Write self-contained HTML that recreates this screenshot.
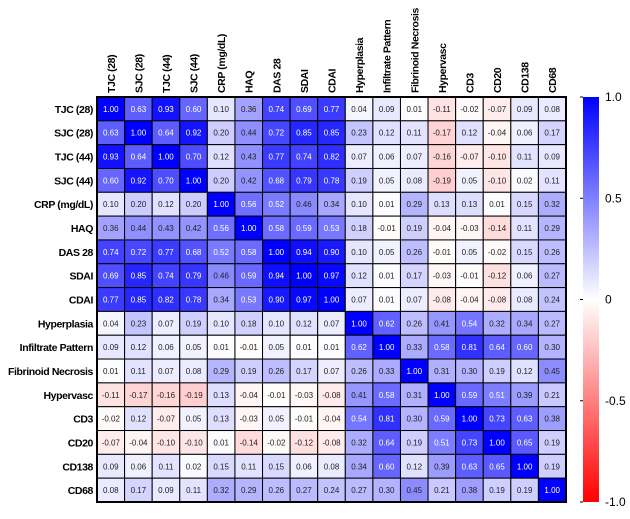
<!DOCTYPE html>
<html><head><meta charset="utf-8"><style>
body{margin:0;background:#fff;width:630px;height:514px;overflow:hidden;font-family:"Liberation Sans",Arial,sans-serif}
</style></head><body>
<svg id="chart" width="630" height="514" xmlns="http://www.w3.org/2000/svg"></svg>
<script>
const labels=["TJC (28)","SJC (28)","TJC (44)","SJC (44)","CRP (mg/dL)","HAQ","DAS 28","SDAI","CDAI","Hyperplasia","Infiltrate Pattern","Fibrinoid Necrosis","Hypervasc","CD3","CD20","CD138","CD68"];
const r1=[1.00,0.63,0.93,0.60,0.10,0.36,0.74,0.69,0.77,0.04,0.09,0.01,-0.11,-0.02,-0.07,0.09,0.08];
const r2=[0.63,1.00,0.64,0.92,0.20,0.44,0.72,0.85,0.85,0.23,0.12,0.11,-0.17,0.12,-0.04,0.06,0.17];
const r3=[0.93,0.64,1.00,0.70,0.12,0.43,0.77,0.74,0.82,0.07,0.06,0.07,-0.16,-0.07,-0.10,0.11,0.09];
const r4=[0.60,0.92,0.70,1.00,0.20,0.42,0.68,0.79,0.78,0.19,0.05,0.08,-0.19,0.05,-0.10,0.02,0.11];
const r5=[0.10,0.20,0.12,0.20,1.00,0.56,0.52,0.46,0.34,0.10,0.01,0.29,0.13,0.13,0.01,0.15,0.32];
const r6=[0.36,0.44,0.43,0.42,0.56,1.00,0.58,0.59,0.53,0.18,-0.01,0.19,-0.04,-0.03,-0.14,0.11,0.29];
const r7=[0.74,0.72,0.77,0.68,0.52,0.58,1.00,0.94,0.90,0.10,0.05,0.26,-0.01,0.05,-0.02,0.15,0.26];
const r8=[0.69,0.85,0.74,0.79,0.46,0.59,0.94,1.00,0.97,0.12,0.01,0.17,-0.03,-0.01,-0.12,0.06,0.27];
const r9=[0.77,0.85,0.82,0.78,0.34,0.53,0.90,0.97,1.00,0.07,0.01,0.07,-0.08,-0.04,-0.08,0.08,0.24];
const r10=[0.04,0.23,0.07,0.19,0.10,0.18,0.10,0.12,0.07,1.00,0.62,0.26,0.41,0.54,0.32,0.34,0.27];
const r11=[0.09,0.12,0.06,0.05,0.01,-0.01,0.05,0.01,0.01,0.62,1.00,0.33,0.58,0.81,0.64,0.60,0.30];
const r12=[0.01,0.11,0.07,0.08,0.29,0.19,0.26,0.17,0.07,0.26,0.33,1.00,0.31,0.30,0.19,0.12,0.45];
const r13=[-0.11,-0.17,-0.16,-0.19,0.13,-0.04,-0.01,-0.03,-0.08,0.41,0.58,0.31,1.00,0.59,0.51,0.39,0.21];
const r14=[-0.02,0.12,-0.07,0.05,0.13,-0.03,0.05,-0.01,-0.04,0.54,0.81,0.30,0.59,1.00,0.73,0.63,0.38];
const r15=[-0.07,-0.04,-0.10,-0.10,0.01,-0.14,-0.02,-0.12,-0.08,0.32,0.64,0.19,0.51,0.73,1.00,0.65,0.19];
const r16=[0.09,0.06,0.11,0.02,0.15,0.11,0.15,0.06,0.08,0.34,0.60,0.12,0.39,0.63,0.65,1.00,0.19];
const r17=[0.08,0.17,0.09,0.11,0.32,0.29,0.26,0.27,0.24,0.27,0.30,0.45,0.21,0.38,0.19,0.19,1.00];
const matrix=[r1,r2,r3,r4,r5,r6,r7,r8,r9,r10,r11,r12,r13,r14,r15,r16,r17];
const cbTicks=[1.0,0.5,0,-0.5,-1.0];
const cbTickLabels=["1.0","0.5","0","-0.5","-1.0"];

const NS="http://www.w3.org/2000/svg";
const svg=document.getElementById('chart');
const X0=97,X1=566,Y0=97,Y1=502;
const n=labels.length;
const cw=(X1-X0)/n, ch=(Y1-Y0)/n;
const xPos=i=>X0+i*cw, yPos=i=>Y0+i*ch;
function color(v){
  if(v>=0){const t=Math.round(255*(1-v));return `rgb(${t},${t},255)`;}
  const t=Math.round(255*(1+v));return `rgb(255,${t},${t})`;
}
function mk(tag,attrs){const e=document.createElementNS(NS,tag);for(const k in attrs)e.setAttribute(k,attrs[k]);svg.appendChild(e);return e;}
matrix.forEach((row,r)=>{
  row.forEach((v,c)=>{
    const rect=mk('rect',{x:xPos(c),y:yPos(r),width:cw,height:ch,fill:color(v),stroke:'#000','stroke-width':1});
    
    
    const t=mk('text',{x:xPos(c)+cw/2,y:yPos(r)+ch/2+3,'text-anchor':'middle','font-size':'8px',fill:v>0.5?'#fff':'#222'});
    t.textContent=v.toFixed(2);
    
    
  });
});
const border=mk('rect',{x:X0,y:Y0,width:X1-X0,height:Y1-Y0,fill:'none',stroke:'#000','stroke-width':2});


labels.forEach((l,i)=>{
  const t=mk('text',{x:X0-4,y:yPos(i)+ch/2+4,'text-anchor':'end','font-size':'10.5px','letter-spacing':'-0.4px','font-weight':'bold',fill:'#000'});
  t.textContent=l;
  
  
  const cx=xPos(i)+cw/2+4, cy=Y0-4;
  const c=mk('text',{x:cx,y:cy,transform:`rotate(-90 ${cx} ${cy})`,'font-size':'10.5px','letter-spacing':'-0.4px','font-weight':'bold',fill:'#000'});
  c.textContent=l;
  
  
});
// colorbar
const CBX=583,CBW=16;
const defs=mk('defs',{});
const g=document.createElementNS(NS,'linearGradient');
g.setAttribute('id','cbg');g.setAttribute('x1','0');g.setAttribute('y1','0');g.setAttribute('x2','0');g.setAttribute('y2','1');
[[0,'rgb(0,0,255)'],[0.5,'rgb(255,255,255)'],[1,'rgb(255,0,0)']].forEach(s=>{const st=document.createElementNS(NS,'stop');st.setAttribute('offset',s[0]);st.setAttribute('stop-color',s[1]);g.appendChild(st);});
defs.appendChild(g);
const cb=mk('rect',{x:CBX,y:Y0,width:CBW,height:Y1-Y0,fill:'url(#cbg)'});


const cbY=v=>Y0+(1-v)/2*(Y1-Y0);
cbTicks.forEach((v,i)=>{
  const tk=mk('line',{x1:CBX-3,x2:CBX,y1:cbY(v),y2:cbY(v),stroke:'#000','stroke-width':1});
  
  
  const t=mk('text',{x:CBX+CBW+6,y:cbY(v)+4,'font-size':'12px',fill:'#000'});
  t.textContent=cbTickLabels[i];
  
  
});
</script>
</body></html>
